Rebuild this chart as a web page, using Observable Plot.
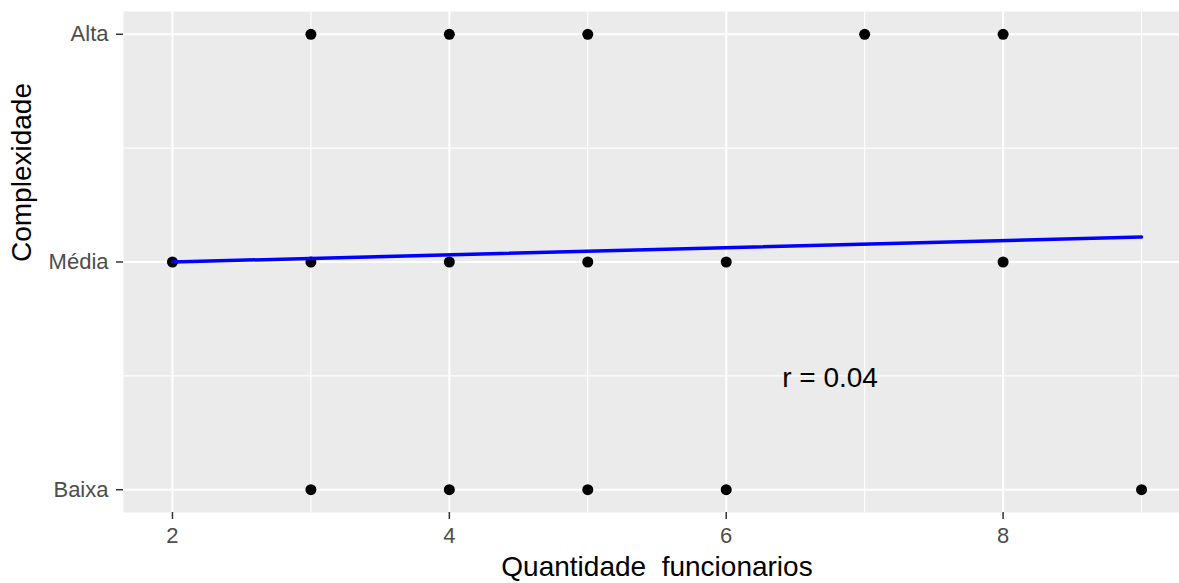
<!DOCTYPE html>
<html><head><meta charset="utf-8">
<script src="https://cdn.jsdelivr.net/npm/d3@7"></script>
<script src="https://cdn.jsdelivr.net/npm/@observablehq/plot@0.6"></script>
<style>html,body{margin:0;padding:0;background:#fff;overflow:hidden} svg{display:block}</style>
</head><body><div id="chart"></div>
<script>
// Data
const levels = ["Baixa", "Média", "Alta"];       // y categories (1, 2, 3)
const altaX  = [3, 4, 5, 7, 8];
const mediaX = [2, 3, 4, 5, 6, 8];
const baixaX = [3, 4, 5, 6, 9];
const fitX = [2, 9];          // linear fit endpoints
const fitY = [2.0, 2.11];
const xMajor = [2, 4, 6, 8];
const xMinor = [3, 5, 7, 9];
const yMajor = [1, 2, 3];
const yMinor = [1.5, 2.5];
const annotX = [6.75];
const annotY = [1.5];
const annotLabel = ["r = 0.04"];
const xTitle = "Quantidade  funcionarios";
const yTitle = "Complexidade";

const points = [
  ...baixaX.map(x => ({x, y: levels.indexOf("Baixa") + 1})),
  ...mediaX.map(x => ({x, y: levels.indexOf("Média") + 1})),
  ...altaX.map(x => ({x, y: levels.indexOf("Alta") + 1}))
];
const fit = fitX.map((x, i) => ({x, y: fitY[i]}));
const annot = annotX.map((x, i) => ({x, y: annotY[i], label: annotLabel[i]}));

const chart = Plot.plot({
  width: 1179, height: 583,
  marginLeft: 123, marginRight: 0, marginTop: 11, marginBottom: 71,
  style: {fontFamily: "'Liberation Sans', Arial, sans-serif", background: "white", overflow: "hidden"},
  x: {domain: [1.65, 9.35], range: [123.5, 1189.5]},
  y: {domain: [0.9, 3.1]},
  marks: [
    Plot.frame({fill: "#EBEBEB", stroke: "none"}),
    Plot.ruleX(xMinor, {stroke: "white", strokeWidth: 1.1}),
    Plot.ruleY(yMinor, {stroke: "white", strokeWidth: 1.1}),
    Plot.ruleX(xMajor, {stroke: "white", strokeWidth: 2}),
    Plot.ruleY(yMajor, {stroke: "white", strokeWidth: 2}),
    Plot.axisX({ticks: xMajor, tickSize: 7, tickPadding: 8, fontSize: 22, stroke: "#333333", fill: "#4D4D4D", strokeWidth: 1.5, label: null}),
    Plot.axisY({ticks: yMajor, tickFormat: d => levels[d - 1], tickSize: 7, tickPadding: 8, fontSize: 22, stroke: "#333333", fill: "#4D4D4D", strokeWidth: 1.5, label: null}),
    Plot.dot(points, {x: "x", y: "y", r: 5.5, fill: "black", stroke: "none"}),
    Plot.line(fit, {x: "x", y: "y", stroke: "#0000FF", strokeWidth: 3.5}),
    Plot.text(annot, {x: "x", y: "y", text: "label", fontSize: 28, fill: "black", dy: 2}),
    Plot.text([xTitle], {text: d => d, frameAnchor: "bottom", dx: 5.5, dy: 63, fontSize: 28, fill: "black"}),
    Plot.text([yTitle], {text: d => d, frameAnchor: "left", rotate: -90, dx: -101, fontSize: 28, fill: "black"})
  ]
});
document.getElementById("chart").appendChild(chart);
</script>
</body></html>
